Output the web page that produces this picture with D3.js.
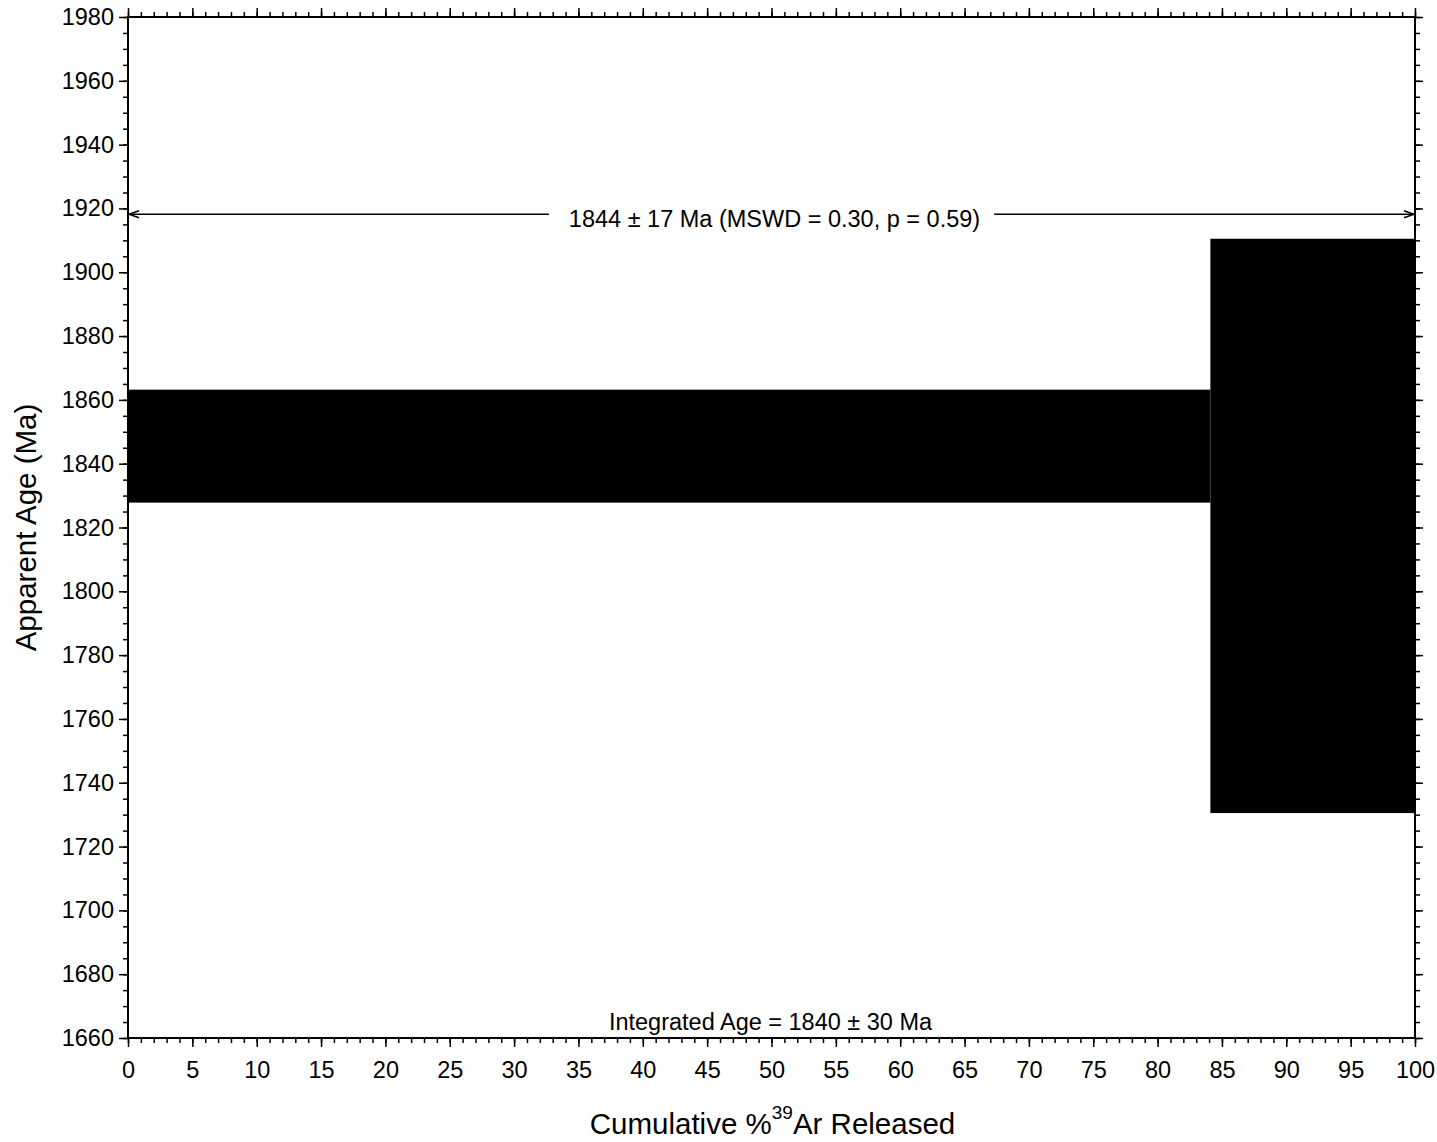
<!DOCTYPE html>
<html>
<head>
<meta charset="utf-8">
<script src="https://cdn.jsdelivr.net/npm/d3@7"></script>
<style>
  html, body { margin: 0; padding: 0; background: #fff; }
  svg { display: block; font-family: "Liberation Sans", Arial, sans-serif; }
</style>
</head>
<body>
<svg id="chart" width="1437" height="1142"></svg>
<script>
// ---- data ----
const stepStart = [0, 84.1];          // cumulative % 39Ar at start of step
const stepEnd   = [84.1, 100];        // cumulative % 39Ar at end of step
const stepAge   = [1845.5, 1820.5];   // apparent age (Ma)
const stepErr   = [17.7, 90.0];       // half-height of age box (Ma)

const xTicksMajor = [0,5,10,15,20,25,30,35,40,45,50,55,60,65,70,75,80,85,90,95,100];
const yTicksMajor = [1660,1680,1700,1720,1740,1760,1780,1800,1820,1840,1860,1880,1900,1920,1940,1960,1980];

const plateauAge = 1844, plateauErr = 17, plateauMSWD = "0.30", plateauP = "0.59";
const plateauFrom = 0, plateauTo = 100, plateauLineAge = 1918.2;
const integratedAge = 1840, integratedErr = 30;

// ---- layout ----
const L = 128, R = 1415, T = 17, B = 1038;
const svg = d3.select("#chart");
const x = d3.scaleLinear().domain([0, 100]).range([L, R]);
const y = d3.scaleLinear().domain([1660, 1980]).range([B, T]);

// steps
svg.append("g").selectAll("rect")
  .data(stepAge.map((a, i) => ({s: stepStart[i], e: stepEnd[i], a, err: stepErr[i]})))
  .join("rect")
  .attr("x", d => x(d.s))
  .attr("width", d => x(d.e) - x(d.s))
  .attr("y", d => y(d.a + d.err))
  .attr("height", d => y(d.a - d.err) - y(d.a + d.err))
  .attr("fill", "#000");

// axes
const xMinor = d3.range(0, 101, 1);
const yMinor = d3.range(1660, 1981, 5);
const tickFont = 23.5;

function styleAxis(g) {
  g.selectAll(".domain").remove();
  g.selectAll("line").attr("stroke", "#000").attr("stroke-width", 1.5);
}

// bottom
svg.append("g").attr("transform", `translate(0,${B})`)
  .call(d3.axisBottom(x).tickValues(xMinor).tickSize(5).tickFormat(""))
  .call(styleAxis);
svg.append("g").attr("transform", `translate(0,${B})`)
  .call(d3.axisBottom(x).tickValues(xTicksMajor).tickSize(9).tickPadding(14).tickFormat(d3.format("d")))
  .call(styleAxis)
  .call(g => g.selectAll("text").attr("font-size", tickFont).attr("fill", "#000")
                .attr("font-family", "Liberation Sans, Arial, sans-serif"));
// top
svg.append("g").attr("transform", `translate(0,${T})`)
  .call(d3.axisTop(x).tickValues(xMinor).tickSize(5).tickFormat(""))
  .call(styleAxis);
svg.append("g").attr("transform", `translate(0,${T})`)
  .call(d3.axisTop(x).tickValues(xTicksMajor).tickSize(9).tickFormat(""))
  .call(styleAxis);
// left
svg.append("g").attr("transform", `translate(${L},0)`)
  .call(d3.axisLeft(y).tickValues(yMinor).tickSize(5).tickFormat(""))
  .call(styleAxis);
svg.append("g").attr("transform", `translate(${L},0)`)
  .call(d3.axisLeft(y).tickValues(yTicksMajor).tickSize(9).tickPadding(5).tickFormat(d3.format("d")))
  .call(styleAxis)
  .call(g => g.selectAll("text").attr("font-size", tickFont).attr("fill", "#000")
                .attr("font-family", "Liberation Sans, Arial, sans-serif"));
// right
svg.append("g").attr("transform", `translate(${R},0)`)
  .call(d3.axisRight(y).tickValues(yMinor).tickSize(5).tickFormat(""))
  .call(styleAxis);
svg.append("g").attr("transform", `translate(${R},0)`)
  .call(d3.axisRight(y).tickValues(yTicksMajor).tickSize(8).tickFormat(""))
  .call(styleAxis);

// frame
svg.append("rect").attr("x", L).attr("y", T).attr("width", R - L).attr("height", B - T)
  .attr("fill", "none").attr("stroke", "#000").attr("stroke-width", 2);

// plateau arrow
const py = y(plateauLineAge);
const ptxt = `${plateauAge} ± ${plateauErr} Ma (MSWD = ${plateauMSWD}, p = ${plateauP})`;
const pcx = (x(plateauFrom) + x(plateauTo)) / 2 + 3;
const pt = svg.append("text").attr("x", pcx).attr("y", py + 13)
  .attr("text-anchor", "middle").attr("font-size", 23.5).text(ptxt);
const tw = pt.node().getComputedTextLength();
const ag = svg.append("g").attr("stroke", "#000").attr("stroke-width", 1.5).attr("fill", "none");
ag.append("line").attr("x1", x(plateauFrom) + 1).attr("x2", pcx - tw / 2 - 20).attr("y1", py).attr("y2", py);
ag.append("line").attr("x1", pcx + tw / 2 + 14).attr("x2", x(plateauTo) - 1).attr("y1", py).attr("y2", py);
ag.append("path").attr("d", `M${x(plateauFrom) + 11},${py - 3.5} L${x(plateauFrom) + 1},${py} L${x(plateauFrom) + 11},${py + 3.5}`);
ag.append("path").attr("d", `M${x(plateauTo) - 11},${py - 3.5} L${x(plateauTo) - 1},${py} L${x(plateauTo) - 11},${py + 3.5}`);

// integrated age
svg.append("text").attr("x", (L + R) / 2 - 1).attr("y", B - 8)
  .attr("text-anchor", "middle").attr("font-size", 23.5)
  .text(`Integrated Age = ${integratedAge} ± ${integratedErr} Ma`);

// axis titles
const xt = svg.append("text").attr("x", (L + R) / 2 + 1).attr("y", 1134)
  .attr("text-anchor", "middle").attr("font-size", 29.5);
xt.append("tspan").text("Cumulative %");
xt.append("tspan").attr("font-size", 19).attr("dy", -15).text("39");
xt.append("tspan").attr("dy", 15).text("Ar Released");

svg.append("text").attr("transform", `translate(36,${(T + B) / 2}) rotate(-90)`)
  .attr("text-anchor", "middle").attr("font-size", 29.5)
  .text("Apparent Age (Ma)");
</script>
</body>
</html>
